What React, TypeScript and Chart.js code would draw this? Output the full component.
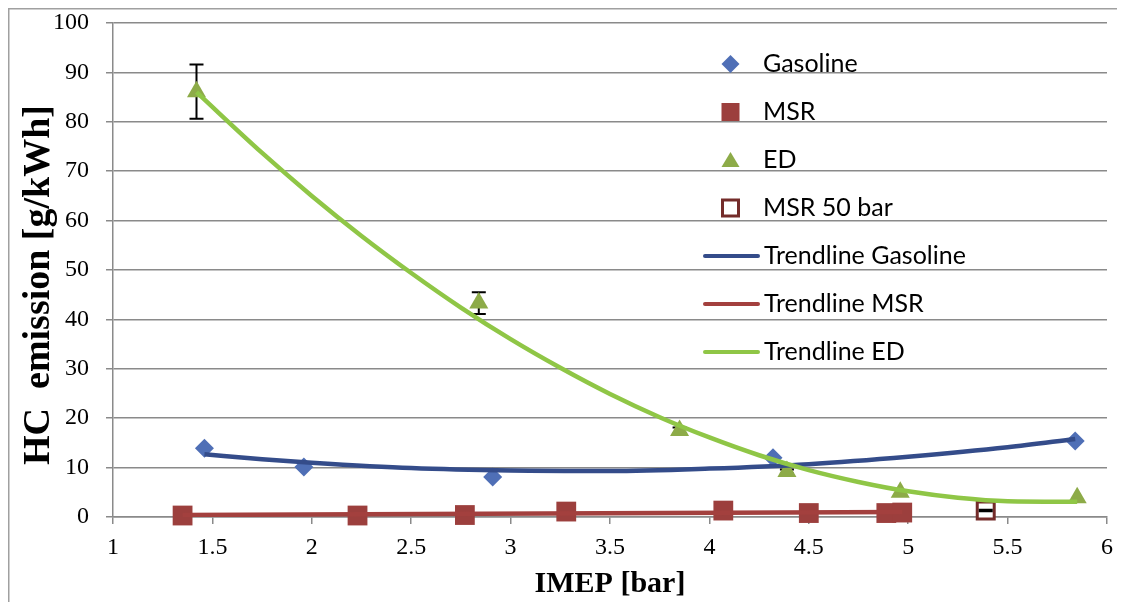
import { useEffect, useRef } from "react";
import { Chart, registerables } from "chart.js";
Chart.register(...registerables);

// ---- data ----
const gasolineX = [1.46, 1.96, 2.91, 4.32, 5.84];
const gasolineY = [13.9, 10.1, 8.1, 12.0, 15.4];

const msrX = [1.35, 2.23, 2.77, 3.28, 4.07, 4.5, 4.89, 4.97];
const msrY = [0.3, 0.3, 0.4, 1.1, 1.3, 0.8, 0.8, 0.9];

const edX = [1.42, 2.84, 3.85, 4.39, 4.96, 5.85];
const edY = [86.1, 43.3, 17.5, 9.2, 5.0, 3.9];
const edErr = [5.5, 2.2, 0.6, 0.4, 0, 0];

const msr50X = [5.39];
const msr50Y = [1.3];
const msr50Err = [0.15];

const trendGasX = [1.46, 1.75, 2, 2.5, 3, 3.5, 4, 4.5, 5, 5.5, 5.84];
const trendGasY = [12.7, 11.7, 11.0, 9.9, 9.4, 9.3, 9.8, 10.7, 12.2, 14.1, 15.8];

const trendMsrX = [1.35, 4.97];
const trendMsrY = [0.4, 1.0];

const trendEdX = [1.42, 1.75, 2, 2.25, 2.5, 2.75, 3, 3.25, 3.5, 3.75, 4, 4.25, 4.5, 4.75, 5, 5.25, 5.5, 5.85];
const trendEdY = [86.0, 73.7, 65.0, 56.9, 49.4, 42.4, 36.0, 30.2, 24.9, 20.2, 16.1, 12.5, 9.5, 7.1, 5.2, 3.9, 3.2, 3.1];

const legendLabels = ["Gasoline", "MSR", "ED", "MSR 50 bar", "Trendline Gasoline", "Trendline MSR", "Trendline ED"];
const xTitle = "IMEP [bar]";
const yTitle = "HC  emission [g/kWh]";

// ---- styles ----
const C_GAS = "#4f6fb6";
const C_MSR = "#9c3f3d";
const C_ED = "#8dab48";
const C_MSR50 = "#742c2a";
const C_TGAS = "#344c8a";
const C_TMSR = "#a3403e";
const C_TED = "#8fc646";
const GRID = "#8a8a8a";
const SERIF = "'Liberation Serif', 'Times New Roman', serif";

const pts = (xs: number[], ys: number[]) => xs.map((x, i) => ({ x, y: ys[i] }));

function drawDiamond(ctx: CanvasRenderingContext2D, x: number, y: number, r: number, fill: string) {
  ctx.beginPath();
  ctx.moveTo(x, y - r);
  ctx.lineTo(x + r, y);
  ctx.lineTo(x, y + r);
  ctx.lineTo(x - r, y);
  ctx.closePath();
  ctx.fillStyle = fill;
  ctx.fill();
}

const framePlugin = {
  id: "frame",
  beforeDraw(chart: any) {
    const ctx = chart.ctx;
    ctx.save();
    ctx.strokeStyle = "#a0a0a0";
    ctx.lineWidth = 1.5;
    ctx.beginPath();
    ctx.moveTo(0.75, chart.height);
    ctx.lineTo(0.75, 0.75);
    ctx.lineTo(chart.width, 0.75);
    ctx.stroke();
    ctx.restore();
  },
};

function drawErr(chart: any, X: number[], Y: number[], E: number[]) {
  const ctx = chart.ctx;
  const xs = chart.scales.x;
  const ys = chart.scales.y;
  ctx.save();
  ctx.strokeStyle = "#000";
  ctx.lineWidth = 2;
  X.forEach((xv, i) => {
    const e = E[i];
    if (!e) return;
    const px = xs.getPixelForValue(xv);
    const top = ys.getPixelForValue(Y[i] + e);
    const bot = ys.getPixelForValue(Y[i] - e);
    ctx.beginPath();
    ctx.moveTo(px, top);
    ctx.lineTo(px, bot);
    ctx.moveTo(px - 7, top);
    ctx.lineTo(px + 7, top);
    ctx.moveTo(px - 7, bot);
    ctx.lineTo(px + 7, bot);
    ctx.stroke();
  });
  ctx.restore();
}

const errorPlugin = {
  id: "errbars",
  beforeDatasetsDraw(chart: any) {
    drawErr(chart, edX, edY, edErr);
  },
  afterDatasetsDraw(chart: any) {
    drawErr(chart, msr50X, msr50Y, msr50Err);
  },
};

const yTitlePlugin = {
  id: "yTitle",
  afterDraw(chart: any) {
    const ctx = chart.ctx;
    ctx.save();
    ctx.translate(31, 277);
    ctx.rotate(-Math.PI / 2);
    ctx.font = "bold 38px " + SERIF;
    ctx.fillStyle = "#000";
    ctx.textAlign = "center";
    ctx.textBaseline = "middle";
    ctx.fillText(yTitle, 0, 0);
    ctx.restore();
  },
};

const legendPlugin = {
  id: "customLegend",
  afterDatasetsDraw(chart: any) {
    const ctx = chart.ctx;
    const mx = 722.5;
    const tx = 755;
    const y0 = 56;
    const step = 48;
    ctx.save();
    ctx.font = "25px Lato";
    ctx.textBaseline = "middle";
    ctx.textAlign = "left";
    legendLabels.forEach((label, i) => {
      const y = y0 + i * step;
      if (i === 0) drawDiamond(ctx, mx, y, 9, C_GAS);
      if (i === 1) {
        ctx.fillStyle = C_MSR;
        ctx.fillRect(mx - 9, y - 9, 18, 18);
      }
      if (i === 2) {
        ctx.fillStyle = C_ED;
        ctx.beginPath();
        ctx.moveTo(mx, y - 8);
        ctx.lineTo(mx + 9, y + 7);
        ctx.lineTo(mx - 9, y + 7);
        ctx.closePath();
        ctx.fill();
      }
      if (i === 3) {
        ctx.fillStyle = "#fff";
        ctx.fillRect(mx - 8, y - 8, 16, 16);
        ctx.strokeStyle = C_MSR50;
        ctx.lineWidth = 3;
        ctx.strokeRect(mx - 8, y - 8, 16, 16);
      }
      if (i >= 4) {
        ctx.strokeStyle = [C_TGAS, C_TMSR, C_TED][i - 4];
        ctx.lineWidth = 4;
        ctx.lineCap = "round";
        ctx.beginPath();
        ctx.moveTo(697, y);
        ctx.lineTo(750, y);
        ctx.stroke();
      }
      ctx.fillStyle = "#000";
      ctx.fillText(label, i >= 4 ? tx + 1 : tx, y);
    });
    ctx.restore();
  },
};

export default function App() {
  const ref = useRef<HTMLCanvasElement | null>(null);
  useEffect(() => {
    if (!ref.current) return;
    const chart = new Chart(ref.current, {
      type: "scatter",
      data: {
        datasets: [
          {
            label: "Trendline ED",
            data: pts(trendEdX, trendEdY),
            showLine: true,
            borderColor: C_TED,
            borderWidth: 4.5,
            pointRadius: 0,
            cubicInterpolationMode: "monotone",
          },
          {
            label: "Trendline Gasoline",
            data: pts(trendGasX, trendGasY),
            showLine: true,
            borderColor: C_TGAS,
            borderWidth: 4.5,
            pointRadius: 0,
            cubicInterpolationMode: "monotone",
          },
          {
            label: "Trendline MSR",
            data: pts(trendMsrX, trendMsrY),
            showLine: true,
            borderColor: C_TMSR,
            borderWidth: 4.5,
            pointRadius: 0,
          },
          {
            label: "Gasoline",
            data: pts(gasolineX, gasolineY),
            pointStyle: "rectRot",
            pointRadius: 9.5,
            backgroundColor: C_GAS,
            borderColor: C_GAS,
            borderWidth: 0,
            clip: false,
          },
          {
            label: "MSR",
            data: pts(msrX, msrY),
            pointStyle: "rect",
            pointRadius: 14,
            backgroundColor: C_MSR,
            borderColor: C_MSR,
            borderWidth: 0,
            clip: false,
          },
          {
            label: "ED",
            data: pts(edX, edY),
            pointStyle: "triangle",
            pointRadius: 11,
            backgroundColor: C_ED,
            borderColor: C_ED,
            borderWidth: 0,
            clip: false,
          },
          {
            label: "MSR 50 bar",
            data: pts(msr50X, msr50Y),
            pointStyle: "rect",
            pointRadius: 12,
            backgroundColor: "#ffffff",
            borderColor: C_MSR50,
            borderWidth: 3,
            clip: false,
          },
        ],
      },
      options: {
        animation: false,
        responsive: false,
        maintainAspectRatio: false,
        layout: { padding: { top: 15, right: 18, bottom: 0, left: 0 } },
        plugins: { legend: { display: false }, tooltip: { enabled: false } },
        scales: {
          x: {
            type: "linear",
            min: 1,
            max: 6,
            afterFit: (s: any) => {
              s.height = 85;
              s.paddingLeft = 0;
              s.paddingRight = 0;
            },
            ticks: {
              stepSize: 0.5,
              color: "#000",
              font: { family: SERIF, size: 24 },
              padding: 9,
              callback: (v: any) => String(v),
            },
            grid: { drawOnChartArea: false, drawTicks: true, tickLength: 7, color: GRID, lineWidth: 1.5 },
            border: { display: true, color: GRID, width: 1.5 },
            title: {
              display: true,
              text: xTitle,
              color: "#000",
              font: { family: SERIF, size: 30, weight: "bold" },
              padding: { top: 0, bottom: 0 },
            },
          },
          y: {
            min: 0,
            max: 100,
            afterFit: (s: any) => {
              s.width = 105;
              s.paddingTop = 0;
              s.paddingBottom = 0;
            },
            ticks: { stepSize: 10, color: "#000", font: { family: SERIF, size: 24 }, padding: 17 },
            grid: { color: GRID, lineWidth: 1.5, tickLength: 7, drawTicks: true },
            border: { display: true, color: GRID, width: 1.5 },
            title: { display: false },
          },
        },
      },
      plugins: [framePlugin, errorPlugin, legendPlugin, yTitlePlugin],
    } as any);
    return () => chart.destroy();
  }, []);
  return (
    <div style={{ width: 1117, height: 594, position: "relative" }}>
      <canvas ref={ref} width={1117} height={594} style={{ display: "block", width: 1117, height: 594 }} />
    </div>
  );
}
